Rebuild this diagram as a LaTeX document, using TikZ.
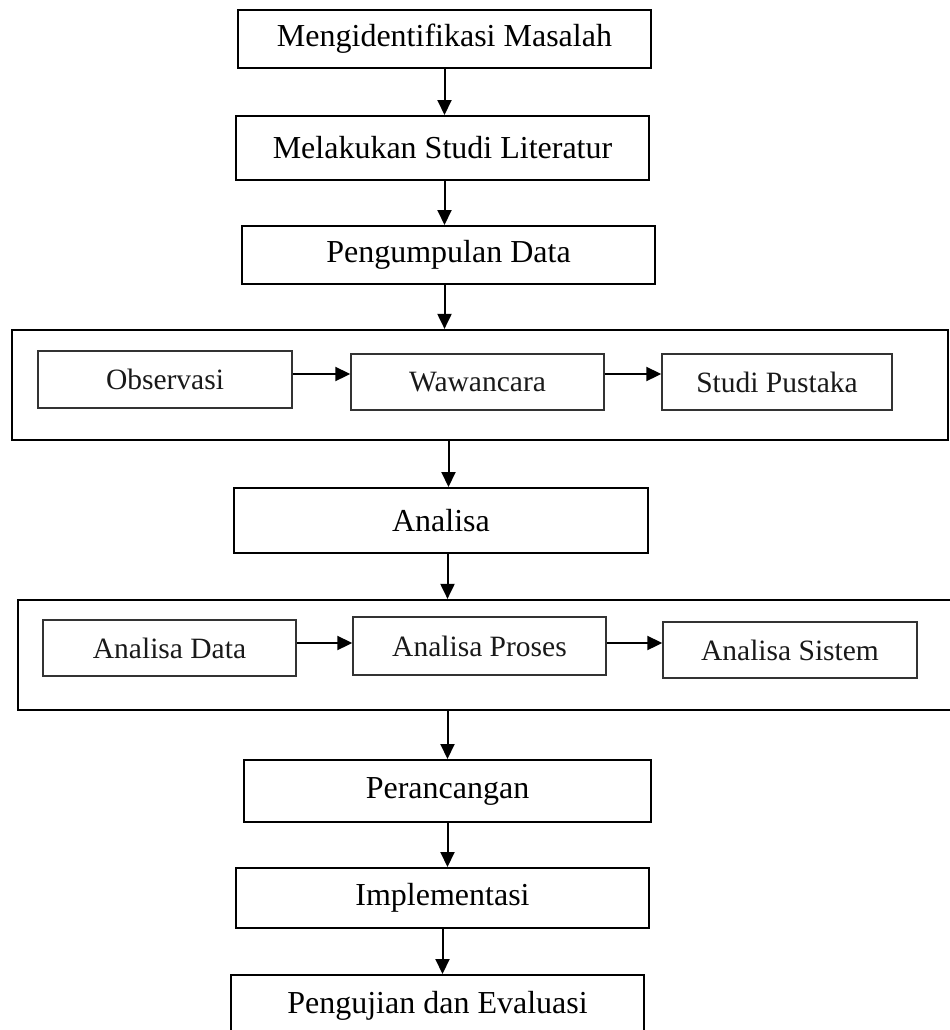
\documentclass[tikz,border=0pt]{standalone}
\usepackage{fontspec}
\setmainfont{Liberation Serif}
\usetikzlibrary{arrows.meta,calc}

\tikzset{
  mainbox/.style={draw, line width=2bp, rectangle, inner sep=0pt,
    font=\fontsize{32bp}{38bp}\selectfont},
  groupbox/.style={draw, line width=2.2bp, rectangle, inner sep=0pt},
  subbox/.style={draw=black!80, line width=1.4bp, rectangle, inner sep=0pt,
    text=black!90, font=\fontsize{29.5bp}{35bp}\selectfont},
  arr/.style={line width=2bp, -{Triangle[width=14bp,length=15bp]}},
}

\begin{document}
\begin{tikzpicture}[x=1bp, y=-1bp]
  \useasboundingbox (0,0) rectangle (950,1030);

  % main process steps
  \node[mainbox, minimum width=413bp, minimum height=58bp] (m1) at (444.5,39) {Mengidentifikasi Masalah};
  \node[mainbox, minimum width=413bp, minimum height=64bp] (m2) at (442.5,148) {Melakukan Studi Literatur};
  \node[mainbox, minimum width=413bp, minimum height=58bp] (m3) at (448.5,255) {Pengumpulan Data};

  % data collection group
  \node[groupbox, minimum width=936bp, minimum height=110bp] (g1) at (480,385) {};
  \node[subbox, minimum width=254bp, minimum height=57bp] (obs) at (165,379.5) {Observasi};
  \node[subbox, minimum width=253bp, minimum height=56bp] (waw) at (477.5,382) {Wawancara};
  \node[subbox, minimum width=230bp, minimum height=56bp] (stp) at (777,382) {Studi Pustaka};

  \node[mainbox, minimum width=414bp, minimum height=65bp] (ana) at (441,520.5) {Analisa};

  % analysis group
  \node[groupbox, minimum width=938bp, minimum height=110bp] (g2) at (487,655) {};
  \node[subbox, minimum width=253bp, minimum height=56bp] (ad) at (169.5,648) {Analisa Data};
  \node[subbox, minimum width=253bp, minimum height=58bp] (ap) at (479.5,646) {Analisa Proses};
  \node[subbox, minimum width=254bp, minimum height=56bp] (as) at (790,650) {Analisa Sistem};

  \node[mainbox, minimum width=407bp, minimum height=62bp] (per) at (447.5,791) {Perancangan};
  \node[mainbox, minimum width=413bp, minimum height=60bp] (imp) at (442.5,898) {Implementasi};
  \node[mainbox, minimum width=413bp, minimum height=62bp] (pe) at (437.5,1006) {Pengujian dan Evaluasi};

  % vertical flow
  \draw[arr] (m1.south) -- (m1.south |- m2.north);
  \draw[arr] (m2.south -| m1) -- (m1 |- m3.north);
  \draw[arr] (m3.south -| m1) -- (m1 |- g1.north);
  \draw[arr] (g1.south -| m3) -- (m3 |- ana.north);
  \draw[arr] (ana.south -| per) -- (per |- g2.north);
  \draw[arr] (g2.south -| per) -- (per.north);
  \draw[arr] (per.south) -- (per.south |- imp.north);
  \draw[arr] (imp.south) -- (imp.south |- pe.north);

  % horizontal flow inside the groups
  \draw[arr] ([yshift=5.5bp]obs.east) coordinate (o1) -- (o1 -| waw.west);
  \draw[arr] ([yshift=8bp]waw.east) coordinate (w1) -- (w1 -| stp.west);
  \draw[arr] ([yshift=5bp]ad.east) coordinate (d1) -- (d1 -| ap.west);
  \draw[arr] ([yshift=3bp]ap.east) coordinate (p1) -- (p1 -| as.west);
\end{tikzpicture}
\end{document}
